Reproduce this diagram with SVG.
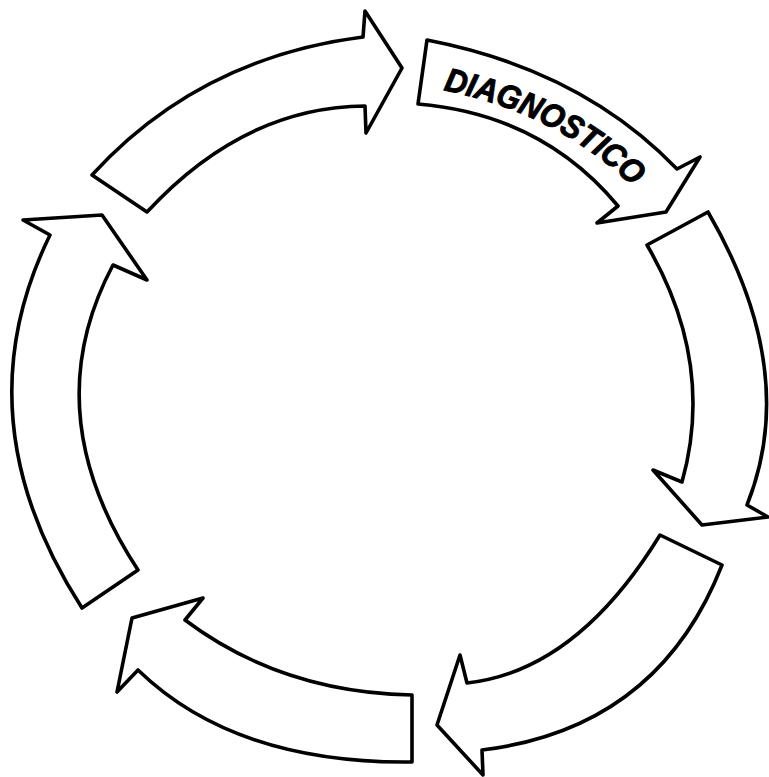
<svg xmlns="http://www.w3.org/2000/svg" width="769" height="777" viewBox="0 0 769 777">
<style>
.arrow{fill:#fff;stroke:#000;stroke-width:3.6;stroke-linejoin:round}
.lbl{font-family:"Liberation Sans",Arial,sans-serif;font-weight:bold;font-style:italic;font-size:33px;fill:#000;stroke:#000;stroke-width:1}
</style>
<defs>
<path id="tp" d="M443,90 Q560.5,114 636,190"/>
</defs>
<rect width="769" height="777" fill="#fff"/>
<g id="arrow-top-left">
<path class="arrow" d="M92,175 Q198.5,58 363,37 L365,11 L402,68 L366,133 L365,106 Q244,107 147,212 Z"/>
</g>
<g id="diagnostico">
<path class="arrow" d="M427,40 Q582,70 677,169 L700,157 L666,212 L597,223 L618,206 Q542,114.5 418,104 Z"/>
<text class="lbl"><textPath href="#tp" textLength="216" lengthAdjust="spacingAndGlyphs">DIAGNOSTICO</textPath></text>
</g>
<g id="arrow-right">
<path class="arrow" d="M647,245 L708,212 Q800.5,371.5 747,505 L768,517 L702,525 L653,470 L682,482 Q715.5,362.5 647,245 Z"/>
</g>
<g id="arrow-bottom-right">
<path class="arrow" d="M660,535 L722,565 Q658,728.5 482,750 L483,775 L437,725 L460,655 L467,683 Q576.5,671 660,535 Z"/>
</g>
<g id="arrow-bottom-left">
<path class="arrow" d="M412,695 L412,762 Q235,764 138,670 L117,692 L132,618 L203,598 L185,620 Q281.5,692.5 412,695 Z"/>
</g>
<g id="arrow-left">
<path class="arrow" d="M82,608 L138,570 Q34.5,412.5 113,265 L147,280 L102,215 L23,220 L50,235 Q-40,418.5 82,608 Z"/>
</g>
<g id="connectors"></g>
</svg>
